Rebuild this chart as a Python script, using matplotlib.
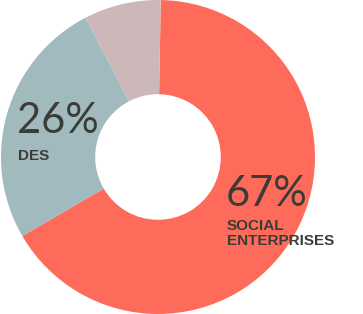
import matplotlib.pyplot as plt

# Data
labels = ['SOCIAL\nENTERPRISES', 'DES', 'OTHER']
shares = [67, 26, 8]
colors = ['#ff6b5a', '#a0babd', '#ccb8b9']
text_color = '#3b3b38'

W, H = 363, 314
fig = plt.figure(figsize=(W / 100, H / 100), dpi=100)

# Donut axes: circle centred at (158, 157) px with radius 157 px
ax = fig.add_axes([1 / W, 0, 314 / W, 1])
ax.pie(shares, colors=colors, startangle=89, counterclock=False,
       radius=1, wedgeprops=dict(width=0.60, edgecolor='none'))
ax.set_xlim(-1, 1)
ax.set_ylim(-1, 1)
ax.set_aspect('equal')
ax.axis('off')

def px(x, y):
    return x / W, 1 - y / H

# Labels (value on top, category below; small label anchored at last line)
label_pos = {'DES': (17, 133, 160), 'SOCIAL\nENTERPRISES': (226, 206, 245)}
for lab, share in zip(labels, shares):
    if lab not in label_pos:
        continue
    x, y_big, y_small = label_pos[lab]
    fig.text(*px(x, y_big), f'{share}%', fontsize=30, family='Lato',
             weight='normal', color=text_color, va='baseline', ha='left')
    fig.text(*px(x + 1, y_small), lab, fontsize=11, family='Liberation Sans',
             weight='bold', color=text_color, va='baseline', ha='left',
             linespacing=1.1)

fig.savefig('out.png', dpi=100)
